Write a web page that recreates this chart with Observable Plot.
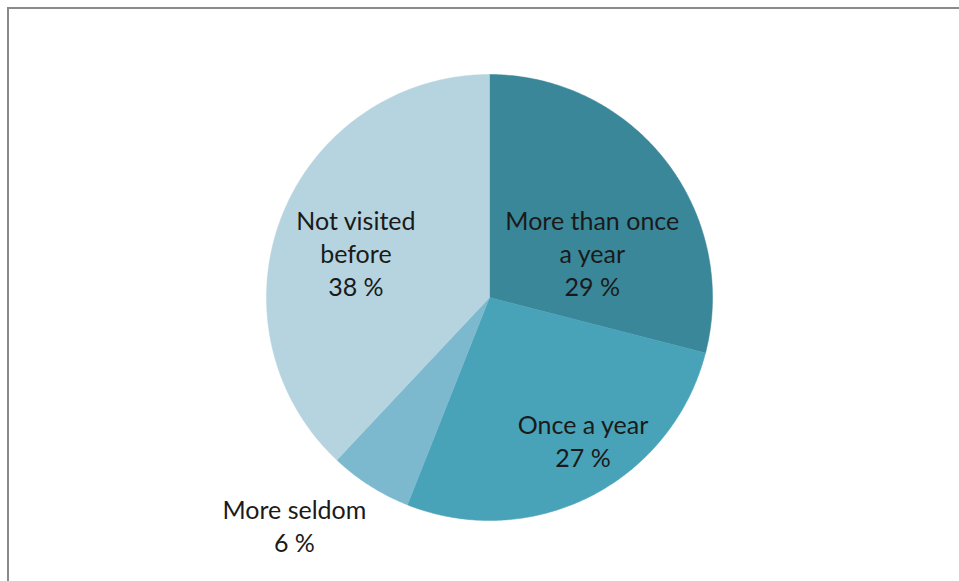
<!DOCTYPE html>
<html>
<head>
<meta charset="utf-8">
<script src="https://cdn.jsdelivr.net/npm/d3@7"></script>
<script src="https://cdn.jsdelivr.net/npm/@observablehq/plot@0.6"></script>
<style>
  html, body { margin: 0; padding: 0; background: #fff; }
  #chart { position: relative; width: 959px; height: 581px; overflow: hidden; }
  #frame { position: absolute; left: 7px; top: 7px; width: 960px; height: 600px;
           border-left: 2px solid #8a8a8a; border-top: 2px solid #8a8a8a; box-sizing: border-box; pointer-events: none; }
</style>
</head>
<body>
<div id="chart"><div id="frame"></div></div>
<script>
const categories = ["More than once a year", "Once a year", "More seldom", "Not visited before"];
const labelNames = ["More than once\na year", "Once a year", "More seldom", "Not visited\nbefore"];
const values = [29, 27, 6, 38];
const colors = ["#3a8799", "#48a3b9", "#7db9ce", "#b5d4df"];

const W = 959, H = 581;
const cx = 489, cy = 297, R = 223;

// angles clockwise from 12 o'clock
const arcs = d3.pie().sort(null).value(d => d)(values);

const polys = [];
arcs.forEach((a, i) => {
  const n = Math.max(2, Math.ceil((a.endAngle - a.startAngle) / 0.01));
  polys.push({k: i, x: 0, y: 0});
  for (let j = 0; j <= n; j++) {
    const t = a.startAngle + (a.endAngle - a.startAngle) * j / n;
    polys.push({k: i, x: Math.sin(t), y: Math.cos(t)});
  }
  polys.push({k: i, x: 0, y: 0});
});

// label placement (radius fraction, angle offset in degrees) per slice
const place = [
  {r: 0.50, da: 15},
  {r: 0.77, da: -6},
  {r: 1.35, da: 8},
  {r: 0.63, da: -3.6}
];
const labels = arcs.map((a, i) => {
  const mid = (a.startAngle + a.endAngle) / 2 + place[i].da * Math.PI / 180;
  return {
    text: labelNames[i] + "\n" + values[i] + " %",
    x: place[i].r * Math.sin(mid),
    y: place[i].r * Math.cos(mid)
  };
});

const plot = Plot.plot({
  width: W,
  height: H,
  margin: 0,
  x: {domain: [-cx / R, (W - cx) / R], axis: null},
  y: {domain: [-(H - cy) / R, cy / R], axis: null},
  color: {domain: [0, 1, 2, 3], range: colors},
  style: {background: "transparent", fontFamily: "Lato, 'Open Sans', sans-serif"},
  marks: [
    Plot.line(polys, {x: "x", y: "y", z: "k", fill: "k", stroke: "k", strokeWidth: 0.5, curve: "linear"}),
    Plot.text(labels, {x: "x", y: "y", text: "text", fontSize: 25, lineHeight: 1.32, dy: -2, fill: "#1a1a1a", textAnchor: "middle"})
  ]
});
plot.style.position = "absolute";
plot.style.left = "0px";
plot.style.top = "0px";
document.getElementById("chart").prepend(plot);
</script>
</body>
</html>
